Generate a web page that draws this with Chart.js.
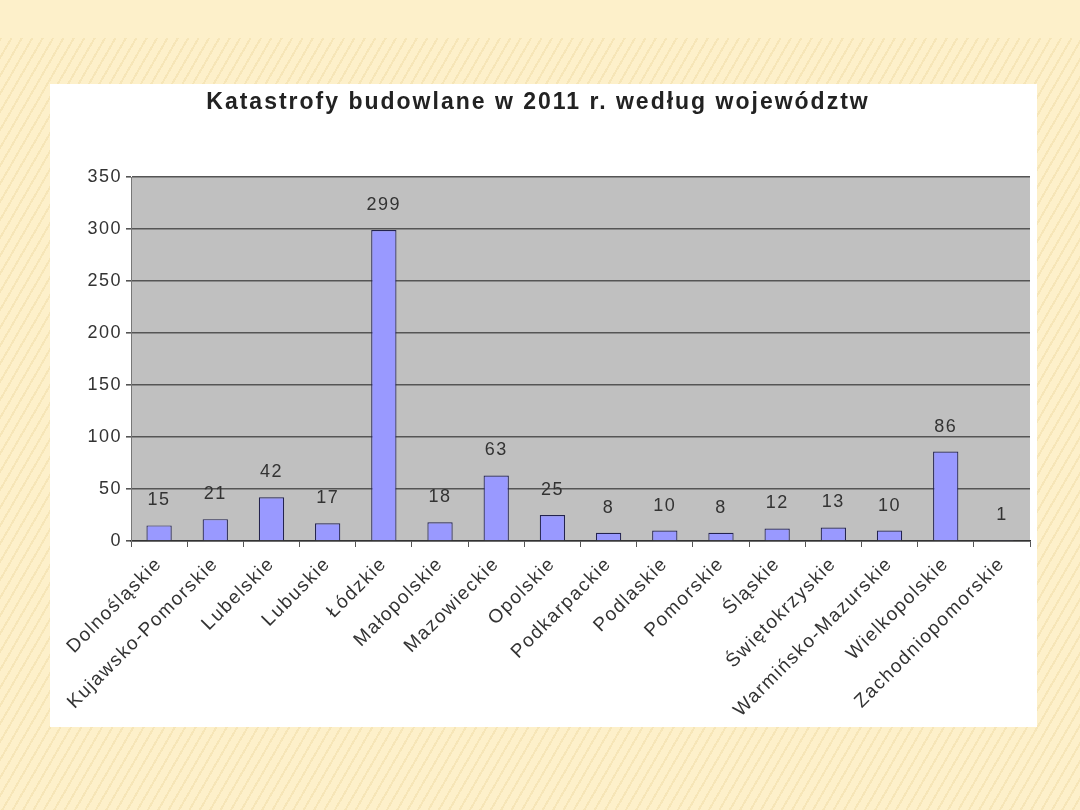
<!DOCTYPE html>
<html>
<head>
<meta charset="utf-8">
<script src="https://cdn.jsdelivr.net/npm/chart.js@4/dist/chart.umd.min.js"></script>
<style>
  html, body { margin: 0; padding: 0; }
  body {
    width: 1080px; height: 810px; overflow: hidden; position: relative;
    background: #fdf0ca;
  }
  #stripes {
    position: absolute; left: 0; top: 38px; width: 1080px; height: 772px;
    background: repeating-linear-gradient(120deg, rgba(230,205,140,0.30) 0px, rgba(230,205,140,0.30) 2px, rgba(253,240,202,0) 2px, rgba(253,240,202,0) 9px);
  }
  #panel {
    position: absolute; left: 50px; top: 84px; width: 987px; height: 643px; background: #ffffff;
  }
</style>
</head>
<body>
<div id="stripes"></div>
<div id="panel"><canvas id="c" width="987" height="643"></canvas></div>
<script>
const categories = ["Dolnośląskie","Kujawsko-Pomorskie","Lubelskie","Lubuskie","Łódzkie","Małopolskie","Mazowieckie","Opolskie","Podkarpackie","Podlaskie","Pomorskie","Śląskie","Świętokrzyskie","Warmińsko-Mazurskie","Wielkopolskie","Zachodniopomorskie"];
const values = [15,21,42,17,299,18,63,25,8,10,8,12,13,10,86,1];
const titleText = "Katastrofy budowlane w 2011 r. według województw";
const FONT = '"Liberation Sans", Arial, sans-serif';

const spacing = {
  id: 'spacing',
  beforeDraw(chart) {
    chart.ctx.letterSpacing = '1.5px';
  }
};
const plotBg = {
  id: 'plotBg',
  beforeDraw(chart) {
    const {ctx, chartArea: a} = chart;
    ctx.save();
    ctx.fillStyle = '#c0c0c0';
    ctx.fillRect(a.left, a.top, a.right - a.left, a.bottom - a.top);
    ctx.restore();
  }
};
const titleDraw = {
  id: 'titleDraw',
  afterDraw(chart) {
    const {ctx} = chart;
    ctx.save();
    ctx.letterSpacing = '2px';
    ctx.fillStyle = '#222222';
    ctx.font = 'bold 23px ' + FONT;
    ctx.textAlign = 'center';
    ctx.textBaseline = 'middle';
    ctx.fillText(titleText, 488, 19);
    ctx.restore();
  }
};
const valueLabels = {
  id: 'valueLabels',
  afterDatasetsDraw(chart) {
    const {ctx} = chart;
    const meta = chart.getDatasetMeta(0);
    ctx.save();
    ctx.letterSpacing = '1.5px';
    ctx.fillStyle = '#333333';
    ctx.font = '18px ' + FONT;
    ctx.textAlign = 'center';
    ctx.textBaseline = 'middle';
    meta.data.forEach((bar, i) => {
      ctx.fillText(String(values[i]), bar.x, bar.y - 25);
    });
    ctx.restore();
  }
};

new Chart(document.getElementById('c'), {
  type: 'bar',
  data: {
    labels: categories,
    datasets: [{
      data: values,
      backgroundColor: '#9999ff',
      borderColor: '#23234f',
      borderWidth: 1.2,
      barPercentage: 0.45,
      categoryPercentage: 1.0
    }]
  },
  options: {
    responsive: false,
    animation: false,
    layout: { padding: { left: 0, right: 7, top: 93, bottom: 0 } },
    plugins: {
      legend: { display: false },
      tooltip: { enabled: false },
      title: { display: false }
    },
    scales: {
      x: {
        grid: { offset: true, drawOnChartArea: false, drawTicks: true, tickLength: 6, color: '#555555' },
        border: { display: true, color: '#333333', width: 1.5 },
        ticks: {
          color: '#333333',
          font: { family: FONT, size: 19 },
          maxRotation: 45, minRotation: 45, autoSkip: false, padding: 6
        },
        afterFit(scale) { scale.height = 186; scale.paddingLeft = 0; scale.paddingRight = 0; }
      },
      y: {
        min: 0, max: 350,
        grid: { color: '#555555', lineWidth: 1.6, drawTicks: true, tickLength: 5 },
        border: { display: true, color: '#777777', width: 1 },
        ticks: {
          stepSize: 50, color: '#333333', padding: 4,
          font: { family: FONT, size: 18 }
        },
        afterFit(scale) { scale.width = 81; }
      }
    }
  },
  plugins: [spacing, plotBg, valueLabels, titleDraw]
});
</script>
</body>
</html>
